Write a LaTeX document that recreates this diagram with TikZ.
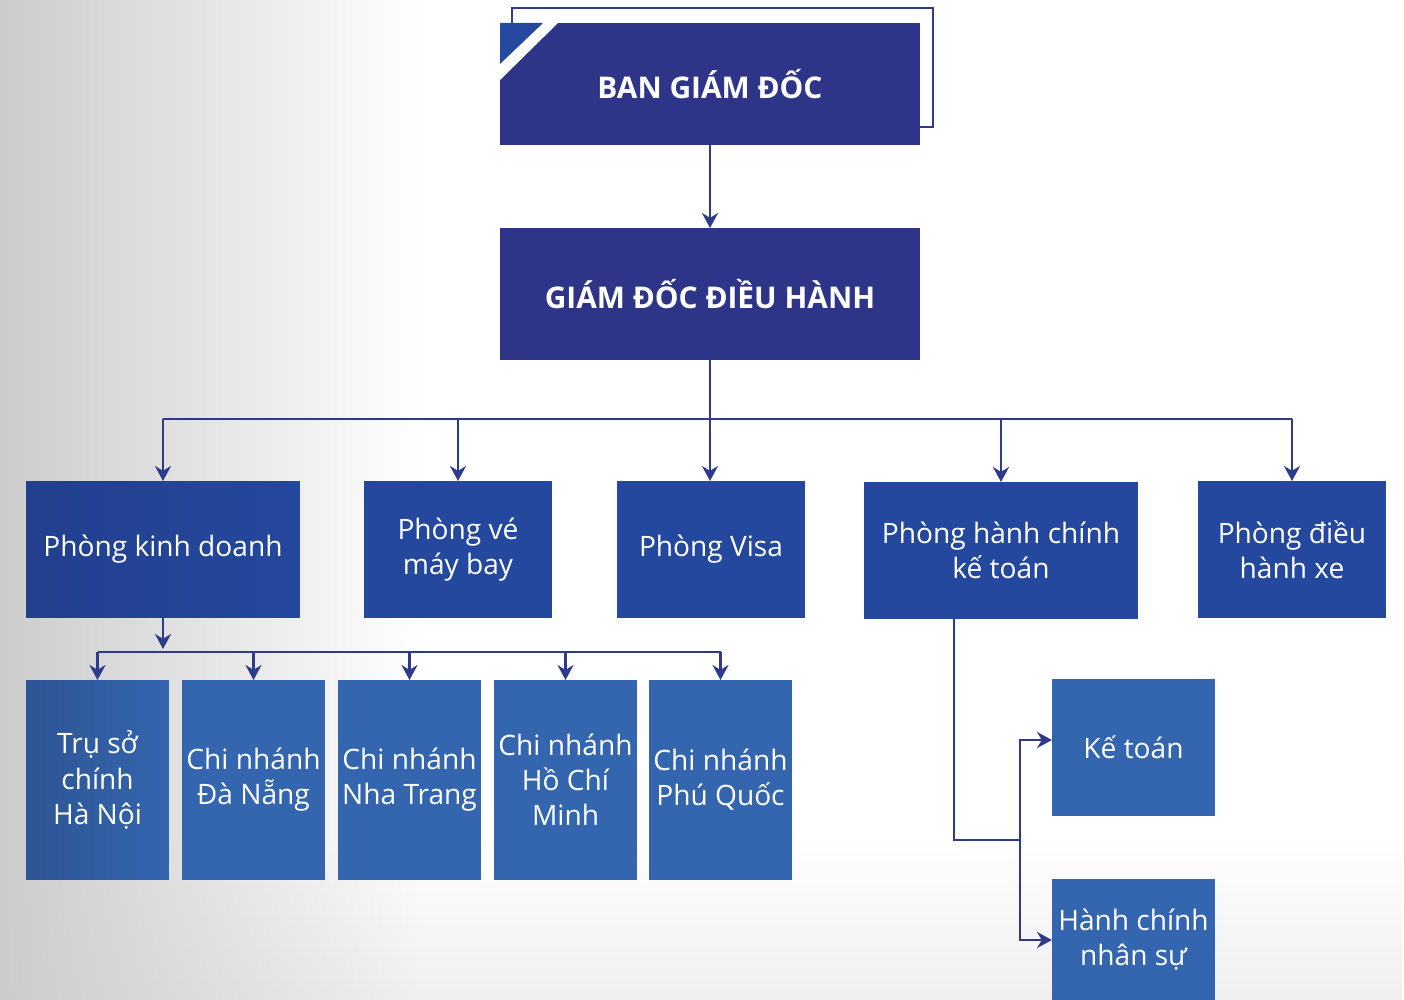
\documentclass[tikz,border=0pt]{standalone}
\usepackage{fontspec}
\setmainfont{Open Sans}
\usetikzlibrary{positioning,arrows.meta,fadings}
\definecolor{navy}{HTML}{2E3589}
\definecolor{midblue}{HTML}{24489D}
\definecolor{darkmid}{HTML}{233F8E}
\definecolor{lightblue}{HTML}{3465AF}
\definecolor{darklight}{HTML}{2E5595}
\definecolor{cornerblue}{HTML}{2548A0}
\definecolor{linecol}{HTML}{2E3A8C}
\tikzset{
  head/.style={fill=navy,text=white,font=\bfseries\fontsize{17}{20}\selectfont,minimum width=8.4cm,inner sep=0pt,outer sep=0pt},
  dept/.style={fill=midblue,text=white,font=\fontsize{16}{20}\selectfont,align=center,minimum height=2.74cm,inner sep=0pt,outer sep=0pt},
  unit/.style={fill=lightblue,text=white,font=\fontsize{16}{20}\selectfont,align=center,minimum width=2.86cm,minimum height=4cm,inner sep=0pt,outer sep=0pt},
  sub/.style={fill=lightblue,text=white,font=\fontsize{16}{20}\selectfont,align=center,minimum width=3.26cm,inner sep=0pt,outer sep=0pt},
  link/.style={draw=linecol,line width=1.4pt},
  tip/.style={-{Stealth[length=0.3cm,width=0.32cm]}},
}
\begin{document}
\begin{tikzpicture}[x=0.02cm,y=-0.02cm]
  \useasboundingbox (0,0) rectangle (1404,1000);
  \fill[white] (0,0) rectangle (1404,1000);
  \fill[black!6,path fading=north] (0,840) rectangle (1404,1000);
  \fill[black!20,path fading=east] (0,0) rectangle (420,1000);

  \draw[link] (512,8) rectangle (933,127);
  \node[head,minimum height=2.44cm] (bgd) at (710,84) {BAN GIÁM ĐỐC};
  \fill[white] (500,23) -- (558,23) -- (500,80) -- cycle;
  \fill[cornerblue] (500,23) -- (543,23) -- (500,64) -- cycle;
  \node[head,minimum height=2.64cm] (gddh) at (710,294) {GIÁM ĐỐC ĐIỀU HÀNH};

  \node[dept,minimum width=5.48cm,left color=darkmid,right color=midblue] (pkd) at (163,549.5) {Phòng kinh doanh};
  \node[dept,minimum width=3.76cm] (pvmb) at (458,549.5) {Phòng vé\\máy bay};
  \node[dept,minimum width=3.76cm] (pvisa) at (711,549.5) {Phòng Visa};
  \node[dept,minimum width=5.48cm] (phckt) at (1001,550.5) {Phòng hành chính\\kế toán};
  \node[dept,minimum width=3.76cm] (pdhx) at (1292,549.5) {Phòng điều\\hành xe};

  \node[unit,left color=darklight,right color=lightblue] (u1) at (97.5,780) {Trụ sở\\chính\\Hà Nội};
  \node[unit] (u2) at (253.5,780) {Chi nhánh\\Đà Nẵng};
  \node[unit] (u3) at (409.5,780) {Chi nhánh\\Nha Trang};
  \node[unit] (u4) at (565.5,780) {Chi nhánh\\Hồ Chí\\Minh};
  \node[unit] (u5) at (720.5,780) {Chi nhánh\\Phú Quốc};

  \node[sub,minimum height=2.74cm] (kt) at (1133.5,747.5) {Kế toán};
  \node[sub,minimum height=2.44cm] (hcns) at (1133.5,940) {Hành chính\\nhân sự};

  \coordinate (bus1) at (708,419);
  \coordinate (bus2) at (162,652);
  \coordinate (fork) at (1020,840);

  \draw[link,tip] (bgd.south) -- (gddh.north);
  \draw[link,tip] (gddh.south) -- (gddh.south |- pvisa.north);
  \draw[link] (pkd.north |- bus1) -- (pdhx.north |- bus1);
  \foreach \n in {pkd,pvmb,phckt,pdhx}
    \draw[link,tip] (\n.north |- bus1) -- (\n.north);

  \draw[link,tip] (pkd.south) -- ([yshift=0.06cm]pkd.south |- bus2);
  \draw[link] (u1.north |- bus2) -- (u5.north |- bus2);
  \foreach \n in {u1,u2,u3,u4,u5}
    \draw[link,tip] (\n.north |- bus2) -- (\n.north);

  \draw[link] ([xshift=1.8cm]phckt.south west) |- (fork);
  \draw[link,tip] (fork) |- ([yshift=0.15cm]kt.west);
  \draw[link,tip] (fork) |- (hcns.west);
\end{tikzpicture}
\end{document}
